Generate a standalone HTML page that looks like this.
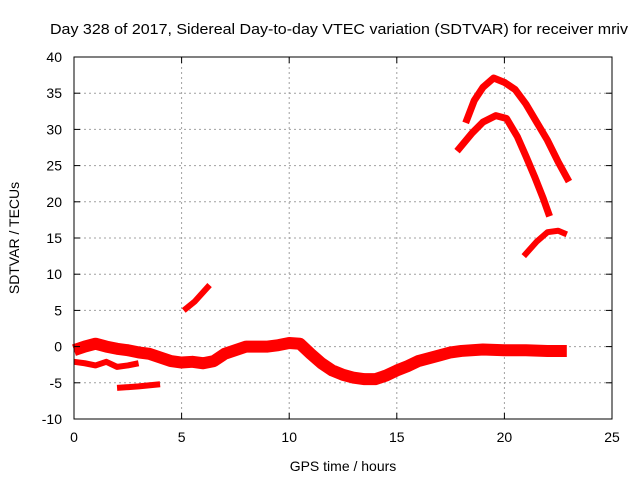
<!DOCTYPE html>
<html><head><meta charset="utf-8"><style>
body{margin:0;background:#fff}
svg{display:block;font-family:"Liberation Sans",sans-serif}
</style></head><body>
<svg id="chart" width="640" height="480" viewBox="0 0 640 480">
<text x="50" y="34" font-size="15" textLength="578" lengthAdjust="spacingAndGlyphs">Day 328 of 2017, Sidereal Day-to-day VTEC variation (SDTVAR) for receiver mriv</text>
<g id="grid"></g>
<g id="series"></g>
<rect x="74" y="57" width="538" height="362" fill="none" stroke="#000" stroke-width="1"/>
<g id="ticks" font-size="14"></g>
<text x="343" y="471" text-anchor="middle" font-size="14">GPS time / hours</text>
<text x="19" y="238" text-anchor="middle" font-size="14" transform="rotate(-90 19 238)">SDTVAR / TECUs</text>
</svg>
<script>
const xTicks=[0,5,10,15,20,25];
const yTicks=[-10,-5,0,5,10,15,20,25,30,35,40];
const mainBand=[[0,-0.5],[0.5,0],[1,0.4],[1.5,0],[2,-0.3],[2.5,-0.5],[3,-0.8],[3.5,-1],[4,-1.5],[4.5,-2],[5,-2.2],[5.5,-2.1],[6,-2.3],[6.5,-2],[7,-1],[7.5,-0.5],[8,0],[9,0],[9.5,0.2],[10,0.5],[10.5,0.4],[11,-1],[11.5,-2.3],[12,-3.3],[12.5,-3.9],[13,-4.3],[13.5,-4.5],[14,-4.5],[14.5,-4],[15,-3.3],[15.5,-2.7],[16,-2],[16.5,-1.6],[17,-1.2],[17.5,-0.8],[18,-0.6],[19,-0.4],[20,-0.5],[21,-0.5],[22,-0.6],[22.9,-0.6]];
const lowBranch=[[0,-2.1],[0.5,-2.3],[1,-2.6],[1.5,-2.1],[2,-2.8],[2.5,-2.6],[3,-2.3]];
const lowSegment=[[2,-5.7],[3,-5.5],[4,-5.2]];
const riseSegment=[[5.1,5],[5.6,6.2],[6.3,8.5]];
const arcTop=[[18.2,30.9],[18.6,34],[19,35.8],[19.5,37.1],[20,36.5],[20.5,35.5],[21,33.5],[21.5,31],[22,28.5],[22.5,25.5],[23,22.8]];
const arcMid=[[17.8,27],[18.5,29.5],[19,31],[19.6,31.9],[20.1,31.5],[20.6,29],[21,26.3],[21.4,23.5],[21.8,20.5],[22.1,18]];
const arcLow=[[20.9,12.5],[21.5,14.5],[22,15.8],[22.5,16],[22.9,15.5]];
const NS='http://www.w3.org/2000/svg';
const xs=v=>74+v/25*538, ys=v=>419-(v+10)/50*362;
const grid=document.getElementById('grid'),ticks=document.getElementById('ticks'),ser=document.getElementById('series');
function mk(t,a,p){const e=document.createElementNS(NS,t);for(const k in a)e.setAttribute(k,a[k]);p.appendChild(e);return e;}
xTicks.forEach(v=>{const x=xs(v);
 if(v>0&&v<25){const l=mk('line',{x1:x,x2:x,y1:57,y2:419,stroke:'#a0a0a0','stroke-dasharray':'2,3'},grid);}
 const t=mk('line',{x1:x,x2:x,y1:419,y2:413,stroke:'#000'},ticks);
 const t2=mk('line',{x1:x,x2:x,y1:57,y2:63,stroke:'#000'},ticks);
 const tx=mk('text',{x:x,y:442,'text-anchor':'middle'},ticks);tx.textContent=v;});
yTicks.forEach(v=>{const y=ys(v);
 if(v>-10&&v<40){const l=mk('line',{x1:74,x2:612,y1:y,y2:y,stroke:'#a0a0a0','stroke-dasharray':'2,3'},grid);}
 const t=mk('line',{x1:74,x2:80,y1:y,y2:y,stroke:'#000'},ticks);
 const t2=mk('line',{x1:606,x2:612,y1:y,y2:y,stroke:'#000'},ticks);
 const tx=mk('text',{x:62,y:y+5,'text-anchor':'end'},ticks);tx.textContent=v;});
function draw(d,w,name){const p=mk('polyline',{points:d.map(q=>xs(q[0])+','+ys(q[1])).join(' '),fill:'none',stroke:'#ff0000','stroke-width':w,'stroke-linejoin':'round','stroke-linecap':'butt'},ser);
 
 }
draw(mainBand,12,'series-main-band');
draw(lowBranch,6,'series-low-branch');
draw(lowSegment,6,'series-low-segment');
draw(riseSegment,6,'series-rise-segment');
draw(arcTop,7,'series-arc-top');
draw(arcMid,7,'series-arc-mid');
draw(arcLow,6,'series-arc-low');
</script>
</body></html>
